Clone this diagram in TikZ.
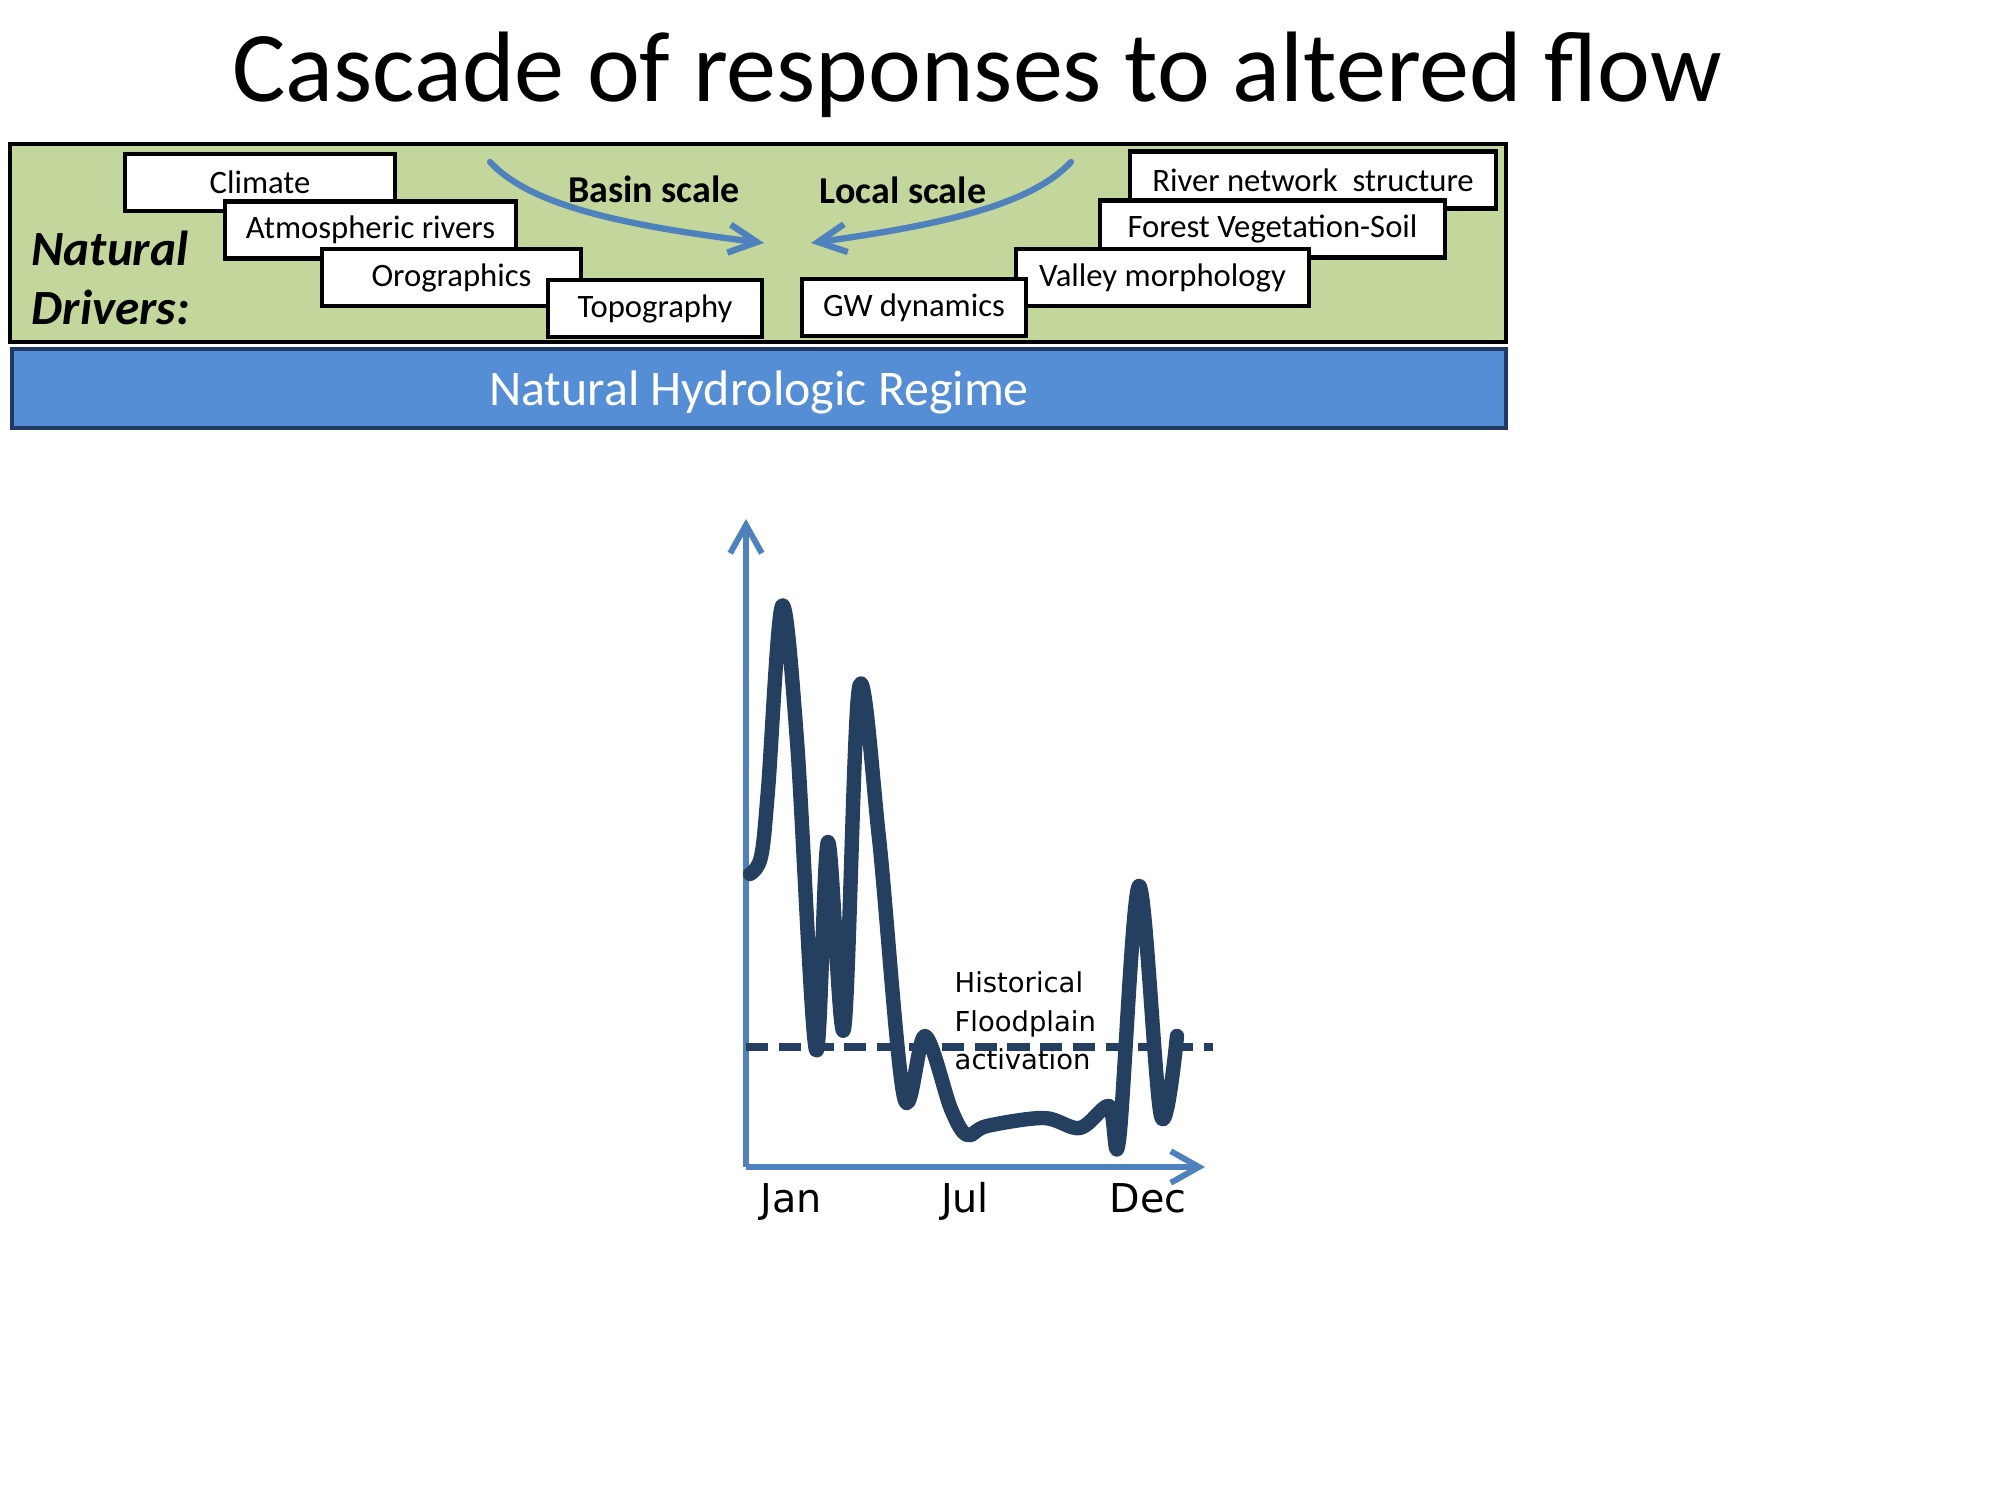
\documentclass[tikz,border=0pt]{standalone}
\usepackage{fontspec}
\setmainfont{Carlito}
\newfontfamily\chartfont{DejaVu Sans}
\usetikzlibrary{arrows.meta}
\definecolor{driverGreen}{HTML}{C3D69B}
\definecolor{regimeBlue}{HTML}{558ED5}
\definecolor{regimeEdge}{HTML}{1F3864}
\definecolor{axisBlue}{HTML}{4F81BD}
\definecolor{flowNavy}{HTML}{243F60}
\begin{document}
\begin{tikzpicture}[x=0.1mm, y=-0.1mm,
	driverbox/.style={draw=black, line width=1.3pt, fill=white, minimum height=5.7mm, inner sep=0pt, font=\fontsize{9.3}{11}\selectfont},
	scalelabel/.style={anchor=base, font=\bfseries\fontsize{10.8}{12}\selectfont},
	scalearrow/.style={axisBlue, line width=1.8pt, line cap=round, -{Straight Barb[length=8pt,width=8pt]}},
	axisline/.style={axisBlue, line width=1.7pt, -{Straight Barb[length=8pt,width=9pt]}},
	monthlabel/.style={anchor=base, font=\chartfont\fontsize{11.3}{13}\selectfont}]
	\useasboundingbox (0,0) rectangle (2000,1500);
	\node[anchor=base, font=\fontsize{28.5}{34}\selectfont] (title) at (977,102) {Cascade of responses to altered flow};
	\draw[fill=driverGreen, line width=0.9pt] (10,144) rectangle (1506,342);
	\node[anchor=north west, inner sep=0pt, align=left, font=\bfseries\itshape\fontsize{14}{17}\selectfont] (natdrivers) at (31,230) {Natural\\Drivers:};
	\node[driverbox, minimum width=27.0mm] (climate) at (260,182.5) {Climate};
	\node[driverbox, minimum width=29.1mm] (atmos) at (370.5,230) {Atmospheric rivers};
	\node[driverbox, minimum width=25.9mm] (oro) at (451.5,277.5) {Orographics};
	\node[driverbox, minimum width=21.4mm] (topo) at (655,308.5) {Topography};
	\node[driverbox, minimum width=36.6mm] (river) at (1313,180) {River network\ \ structure};
	\node[driverbox, minimum width=34.5mm] (forest) at (1272.5,229) {Forest Vegetation-Soil};
	\node[driverbox, minimum width=29.3mm] (valley) at (1162.5,277.5) {Valley morphology};
	\node[driverbox, minimum width=22.4mm] (gw) at (914,307.5) {GW dynamics};
	\node[scalelabel] (basin) at (654,203) {Basin scale};
	\node[scalelabel] (local) at (903,204) {Local scale};
	\coordinate (basinstart) at (490,162);
	\coordinate (basinend) at (764,243);
	\coordinate (localstart) at (1071,162);
	\coordinate (localend) at (811,243);
	\draw[scalearrow] (basinstart) .. controls (530,205) and (620,225) .. (basinend);
	\draw[scalearrow] (localstart) .. controls (1031,205) and (941,225) .. (localend);
	\node[draw=regimeEdge, line width=1.3pt, fill=regimeBlue, minimum width=149.4mm, minimum height=7.9mm, text=white, font=\fontsize{14.2}{17}\selectfont, text depth=0pt] (regime) at (759,388.5) {Natural Hydrologic Regime};
	\coordinate (origin) at (746,1167);
	\coordinate (ytip) at (746,519);
	\coordinate (xtip) at (1205,1167);
	\draw[axisline] (origin) -- (ytip);
	\draw[axisline] (origin) -- (xtip);
	\node[monthlabel] (jan) at (791,1212) {Jan};
	\node[monthlabel] (jul) at (965,1212) {Jul};
	\node[monthlabel] (dec) at (1148,1212) {Dec};
	\node[anchor=north west, inner sep=0pt, align=left, font=\chartfont\fontsize{7.8}{11}\selectfont] (floodtext) at (954,971) {Historical\\Floodplain\\activation};
	\coordinate (floodstart) at (746,1047);
	\coordinate (floodend) at (1213,1047);
	\draw[flowNavy, line width=2.1pt, dash pattern=on 6.3pt off 3pt] (floodstart) -- (floodend);
	\draw[flowNavy, line width=4.1pt, line cap=round, line join=round] plot[smooth, tension=0.55] coordinates {(750,874) (761,857) (768,790) (782,606) (797,741) (816,1050) (828,842) (844,1029) (859,688) (879,838) (904,1097) (925,1036) (951,1109) (967,1135) (987,1126) (1044,1118) (1080,1128) (1109,1106) (1119,1140) (1139,886) (1161,1116) (1177,1036)};
\end{tikzpicture}
\end{document}
